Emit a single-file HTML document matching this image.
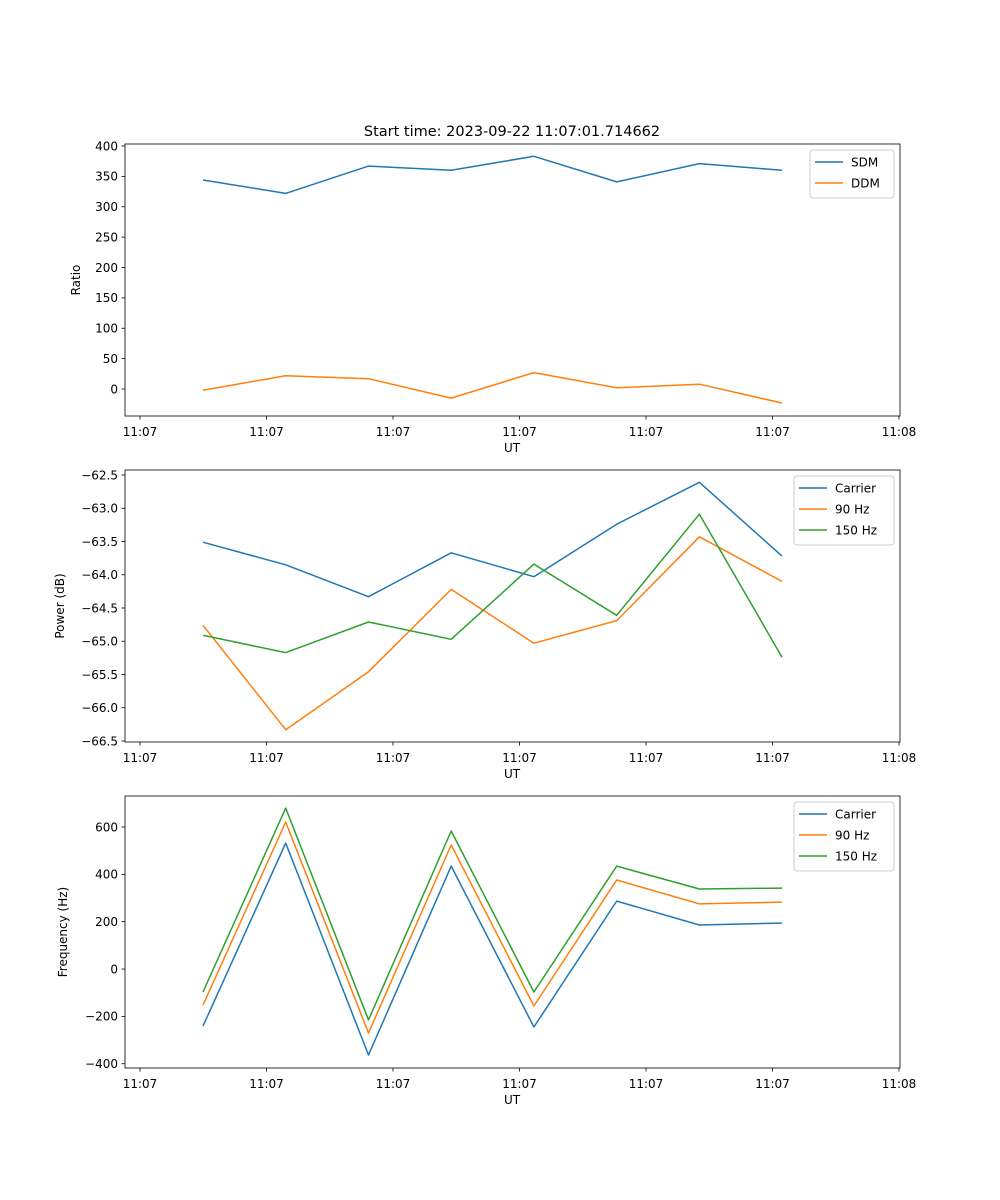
<!DOCTYPE html>
<html><head><meta charset="utf-8"><style>
body{margin:0;background:#fff}
svg{display:block;font-family:"DejaVu Sans","Liberation Sans",sans-serif}
</style></head><body>
<svg id="fig" width="1000" height="1200" viewBox="0 0 1000 1200" xmlns="http://www.w3.org/2000/svg">
<rect width="1000" height="1200" fill="#fff"/>
<text x="512" y="136" font-size="14.5" text-anchor="middle">Start time: 2023-09-22 11:07:01.714662</text>
</svg>
<script>
const xTicks = [0,1,2,3,4,5,6];
const xTickLabels = ["11:07","11:07","11:07","11:07","11:07","11:07","11:08"];
const times = [0.498,1.152,1.806,2.46,3.114,3.768,4.422,5.075];
const sdm = [344,322,367,360,383,341,371,360];
const ddm = [-2,22,17,-15,27,2,8,-23];
const powCarrier = [-63.51,-63.85,-64.33,-63.67,-64.03,-63.24,-62.61,-63.72];
const pow90 = [-64.76,-66.33,-65.46,-64.22,-65.03,-64.69,-63.43,-64.10];
const pow150 = [-64.91,-65.17,-64.71,-64.97,-63.84,-64.61,-63.09,-65.24];
const freqCarrier = [-241,532,-363,435,-245,287,186,194];
const freq90 = [-152,621,-270,524,-156,376,275,283];
const freq150 = [-97,680,-215,583,-97,435,338,342];
const ticks1 = [0,50,100,150,200,250,300,350,400];
const ticks2 = [-66.5,-66,-65.5,-65,-64.5,-64,-63.5,-63,-62.5];
const ticks3 = [-400,-200,0,200,400,600];

const NS="http://www.w3.org/2000/svg";
const svg=document.getElementById('fig');
function mk(tag,attrs,parent){const e=document.createElementNS(NS,tag);for(const k in attrs)e.setAttribute(k,attrs[k]);(parent||svg).appendChild(e);return e;}
const L=125,R=900;
const xScale=v=>140+v*126.5;

function panel(p){
  const g=mk('g',{});
  
  
  const y=v=>p.top+(p.ymax-v)/(p.ymax-p.ymin)*(p.bottom-p.top);
  p.series.forEach(s=>{
    const d=s.vals.map((v,i)=>(i?'L':'M')+xScale(times[i]).toFixed(1)+' '+y(v).toFixed(1)).join(' ');
    const path=mk('path',{d:d,fill:'none',stroke:s.color,'stroke-width':1.5,'stroke-linejoin':'round'},g);
    
    
  });
  const frame=mk('rect',{x:L,y:p.top,width:R-L,height:p.bottom-p.top,fill:'none',stroke:'#000','stroke-width':0.8},g);
  
  
  xTicks.forEach((t,i)=>{
    const x=xScale(t);
    mk('line',{x1:x,x2:x,y1:p.bottom,y2:p.bottom+3.5,stroke:'#000','stroke-width':0.8},g);
    const tx=mk('text',{x:x,y:p.bottom+20,'font-size':12,'text-anchor':'middle'},g);
    tx.textContent=xTickLabels[i];
    
    
  });
  p.ticks.forEach(t=>{
    const yy=y(t);
    mk('line',{x1:L-3.5,x2:L,y1:yy,y2:yy,stroke:'#000','stroke-width':0.8},g);
    const tx=mk('text',{x:L-7,y:yy+4.3,'font-size':12,'text-anchor':'end'},g);
    tx.textContent=(t<0?'\u2212':'')+Math.abs(t).toFixed(p.dec);
    
    
  });
  const xl=mk('text',{x:512,y:p.bottom+36,'font-size':12,'text-anchor':'middle'},g);
  xl.textContent='UT';
  
  
  const cy=(p.top+p.bottom)/2;
  const yl=mk('text',{x:p.ylx,y:cy,'font-size':12,'text-anchor':'middle',transform:`rotate(-90 ${p.ylx} ${cy})`},g);
  yl.textContent=p.ylabel;
  
  
  const lg=mk('g',{},g);
  
  
  mk('rect',{x:p.lx,y:p.top+6,width:R-6-p.lx,height:p.series.length*21+6,rx:3,fill:'#fff','fill-opacity':0.8,stroke:'#ccc','stroke-width':1},lg);
  p.series.forEach((s,i)=>{
    const yy=p.top+18+i*21;
    mk('line',{x1:p.lx+5,x2:p.lx+33,y1:yy,y2:yy,stroke:s.color,'stroke-width':1.5},lg);
    const t=mk('text',{x:p.lx+41,y:yy+4.3,'font-size':12},lg);
    t.textContent=s.label;
    
    
  });
}
const C1='#1f77b4',C2='#ff7f0e',C3='#2ca02c';
panel({name:'ratio-panel',top:144,bottom:416,ymin:-44.4,ymax:403.3,ticks:ticks1,dec:0,ylabel:'Ratio',ylx:80,lx:810,
  series:[{id:'sdm-line',label:'SDM',vals:sdm,color:C1},{id:'ddm-line',label:'DDM',vals:ddm,color:C2}]});
panel({name:'power-panel',top:470,bottom:742,ymin:-66.515,ymax:-62.425,ticks:ticks2,dec:1,ylabel:'Power (dB)',ylx:64,lx:794,
  series:[{id:'power-carrier-line',label:'Carrier',vals:powCarrier,color:C1},{id:'power-90hz-line',label:'90 Hz',vals:pow90,color:C2},{id:'power-150hz-line',label:'150 Hz',vals:pow150,color:C3}]});
panel({name:'frequency-panel',top:796,bottom:1068,ymin:-418,ymax:731,ticks:ticks3,dec:0,ylabel:'Frequency (Hz)',ylx:67,lx:794,
  series:[{id:'freq-carrier-line',label:'Carrier',vals:freqCarrier,color:C1},{id:'freq-90hz-line',label:'90 Hz',vals:freq90,color:C2},{id:'freq-150hz-line',label:'150 Hz',vals:freq150,color:C3}]});
</script>
</body></html>
